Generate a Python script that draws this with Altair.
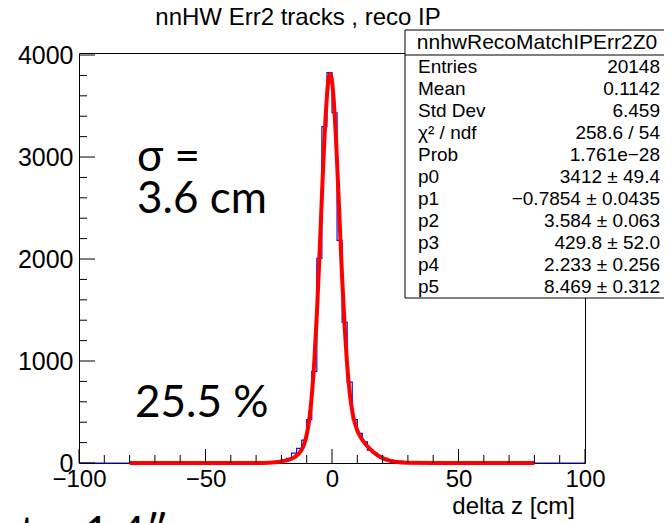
import altair as alt
import pandas as pd

# ---------------- data ----------------
bin_left = [-40, -38, -36, -34, -32, -30, -28, -26, -24, -22, -20, -18, -16, -14, -12, -10, -8, -6, -4, -2,
            0, 2, 4, 6, 8, 10, 12, 14, 16, 18, 20, 22, 24, 26, 28, 30, 32, 34, 36, 38, 40, 42, 44, 46, 48]
bin_count = [1, 2, 2, 3, 4, 5, 7, 10, 14, 20, 30, 45, 97, 143, 224, 426, 898, 2007, 3298, 3827,
             3434, 2182, 1379, 793, 426, 290, 208, 127, 97, 68, 45, 32, 24, 18, 14, 10, 8, 6, 5, 4, 3, 3, 2, 2, 0]

fit_x = [-80, -40, -30, -25, -20, -18, -16, -15, -14, -13, -12, -11, -10, -9, -8, -7, -6, -5, -4.5, -4, -3.5, -3,
         -2.5, -2, -1.5, -1, -0.785, -0.5, 0, 0.5, 1, 1.5, 2, 2.5, 3, 3.5, 4, 5, 6, 7, 8, 9, 10, 11, 12, 13,
         14, 15, 16, 17, 18, 19, 20, 21, 22, 23, 25, 30, 40, 80]
fit_y = [0, 0, 0.3, 2.4, 14, 25, 43, 55, 72, 96, 130, 186, 277, 425, 657, 996, 1452, 2007, 2307, 2609, 2903, 3174,
         3411, 3600, 3735, 3805, 3815, 3809, 3746, 3620, 3439, 3212, 2953, 2672, 2381, 2095, 1820, 1335, 958, 689,
         510, 394, 319, 267, 227, 193, 164, 138, 115, 94, 76, 61, 48, 37, 28, 21, 11.6, 2, 0, 0]

stat_labels = ["Entries", "Mean", "Std Dev", "\u03c7\u00b2 / ndf", "Prob", "p0", "p1", "p2", "p3", "p4", "p5"]
stat_values = ["20148", "0.1142", "6.459", "258.6 / 54", "1.761e\u221228", "3412 \u00b1 49.4",
               "\u22120.7854 \u00b1 0.0435", "3.584 \u00b1 0.063", "429.8 \u00b1 52.0", "2.233 \u00b1 0.256",
               "8.469 \u00b1 0.312"]

x_major = [-100, -50, 0, 50, 100]
x_minor = [-90, -80, -70, -60, -40, -30, -20, -10, 10, 20, 30, 40, 60, 70, 80, 90]
y_major = [0, 1000, 2000, 3000, 4000]
y_minor = [200, 400, 600, 800, 1200, 1400, 1600, 1800, 2200, 2400, 2600, 2800, 3200, 3400, 3600, 3800]

title_text = "nnHW Err2 tracks , reco IP"
stats_name = "nnhwRecoMatchIPErr2Z0"
x_title = "delta z [cm]"

# ---------------- chart ----------------
W, H = 506, 410
FONT = "Liberation Sans"
BIG = "Lato"
xs = alt.Scale(domain=[-100, 100], nice=False, zero=False)
ys = alt.Scale(domain=[0, 4020], nice=False, zero=False)

step_x = [-100] + bin_left + [100]
step_y = [0] + bin_count + [0]
hist_df = pd.DataFrame({"x": step_x, "y": step_y})
fit_df = pd.DataFrame({"x": fit_x, "y": fit_y})
one = pd.DataFrame({"a": [0]})

x_axis = alt.Axis(values=x_major, ticks=False, domain=False, grid=False, labelFont=FONT,
                  labelFontSize=24, labelColor="black", labelPadding=4, title=None, format="d",
                  labelFlush=False, labelOverlap=False)
y_axis = alt.Axis(values=y_major, ticks=False, domain=False, grid=False, labelFont=FONT,
                  labelFontSize=25, labelColor="black", labelPadding=6, title=None, format="d",
                  labelFlush=False, labelOverlap=False)

base_axes = alt.Chart(hist_df).mark_line(opacity=0).encode(
    x=alt.X("x:Q", scale=xs, axis=x_axis),
    y=alt.Y("y:Q", scale=ys, axis=y_axis),
)

hist = alt.Chart(hist_df).mark_line(interpolate="step-after", color="#1010c8", strokeWidth=1.2).encode(
    x=alt.X("x:Q", scale=xs), y=alt.Y("y:Q", scale=ys))

fit = alt.Chart(fit_df).mark_line(interpolate="monotone", color="#ff0000", strokeWidth=4).encode(
    x=alt.X("x:Q", scale=xs), y=alt.Y("y:Q", scale=ys))

def xticks(vals, ln):
    return alt.Chart(pd.DataFrame({"v": vals})).mark_rule(color="black", strokeWidth=1).encode(
        x=alt.X("v:Q", scale=xs), y=alt.value(H), y2=alt.value(H - ln))

def yticks(vals, ln):
    return alt.Chart(pd.DataFrame({"v": vals})).mark_rule(color="black", strokeWidth=1).encode(
        y=alt.Y("v:Q", scale=ys), x=alt.value(0), x2=alt.value(ln))

layers = [base_axes, hist, fit, xticks(x_major, 14), xticks(x_minor, 8), yticks(y_major, 16), yticks(y_minor, 8)]

def txt(s, x, y, size, font=FONT, align="left", baseline="alphabetic"):
    return alt.Chart(one).mark_text(text=s, font=font, fontSize=size, color="black", align=align,
                                    baseline=baseline).encode(x=alt.value(x), y=alt.value(y))

# title and axis title
layers.append(txt(title_text, 219, -28, 24, align="center"))
layers.append(txt(x_title, 496, 461, 24, align="right"))

# big annotations
layers.append(txt("\u03c3 =", 58, 118, 44, font=BIG))
layers.append(txt("3.6 cm", 58, 160, 44, font=BIG))
layers.append(txt("25.5 %", 56, 364, 44, font=BIG))
layers.append(txt("t ~ 1.4\u2033", -59, 495, 44, font=BIG))

# stats box
BX0, BX1, BY0, BY1 = 326, 600, -23, 245
layers.append(alt.Chart(one).mark_rect(fill="white", stroke="black", strokeWidth=1).encode(
    x=alt.value(BX0), x2=alt.value(BX1), y=alt.value(BY0), y2=alt.value(BY1)))
layers.append(alt.Chart(one).mark_rule(color="black", strokeWidth=1).encode(
    x=alt.value(BX0), x2=alt.value(BX1), y=alt.value(2)))
layers.append(txt(stats_name, 458, -10, 21, align="center", baseline="middle"))
for i, (lab, val) in enumerate(zip(stat_labels, stat_values)):
    yy = 14 + 22 * i
    layers.append(txt(lab, 339, yy, 19, baseline="middle"))
    layers.append(txt(val, 581, yy, 19, align="right", baseline="middle"))

chart = alt.layer(*layers).properties(
    width=W, height=H,
    autosize=alt.AutoSizeParams(type="none"),
    padding={"left": 71, "top": 45, "right": 79, "bottom": 60},
).configure_view(stroke="black", strokeWidth=1)

chart.save("out.html", embed_options={"renderer": "svg", "actions": False})
